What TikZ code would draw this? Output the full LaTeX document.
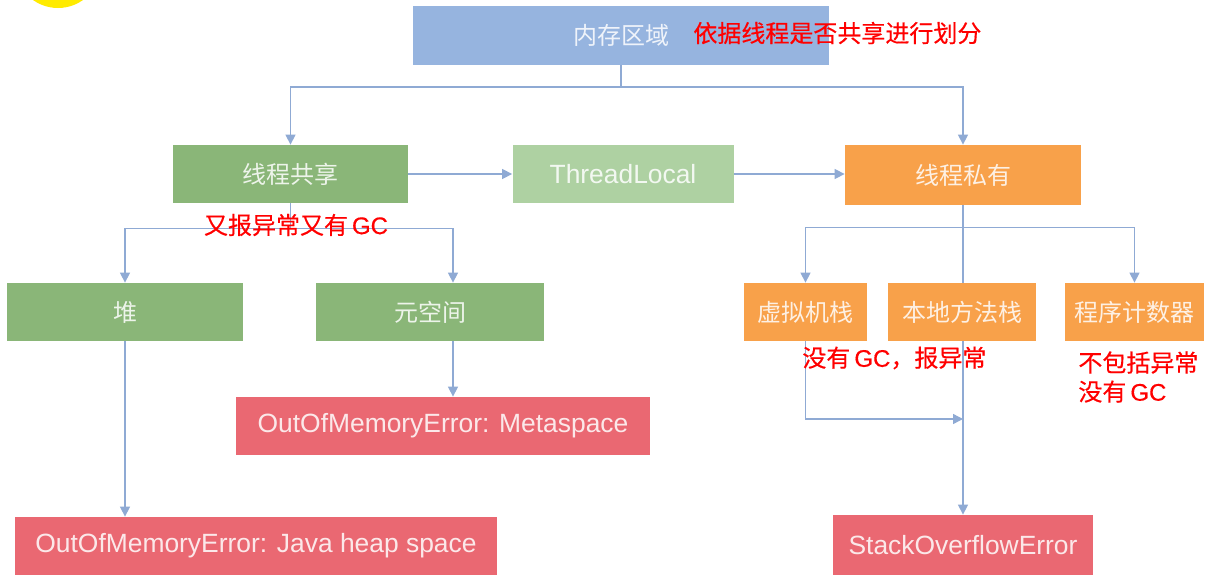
\documentclass[tikz,border=0pt]{standalone}
\usepackage{fontspec}
\setmainfont{Liberation Sans}
\newfontfamily\cjk{Noto Sans CJK SC}
\newfontfamily\cjknote[FakeBold=0.4]{Noto Sans CJK SC}
\newfontfamily\latnote[FakeBold=0.4]{Liberation Sans}
\usetikzlibrary{arrows.meta, positioning, calc, backgrounds}
\definecolor{RegionBlue}{HTML}{96B4DF}
\definecolor{SharedGreen}{HTML}{8AB678}
\definecolor{LocalGreen}{HTML}{AED1A2}
\definecolor{PrivOrange}{HTML}{F8A14A}
\definecolor{ErrRed}{HTML}{EA6872}
\definecolor{LinkBlue}{HTML}{8FAAD4}
\definecolor{NoteRed}{HTML}{FF0000}
\definecolor{Sun}{HTML}{FFEB00}
\newcommand{\gcmark}{{\latnote GC}}
\begin{document}
\begin{tikzpicture}[x=0.5pt, y=-0.5pt,
    box/.style={rectangle, inner sep=0pt, minimum height=29pt,
                text=white, text opacity=0.85, font=\fontsize{13.2}{15}\selectfont},
    cbox/.style={box, font=\cjk\fontsize{12}{14}\selectfont},
    note/.style={text=NoteRed, inner sep=0pt, align=left,
                 font=\cjknote\fontsize{12}{14.5}\selectfont},
    arr/.style={-{Triangle[length=5pt, width=5pt]}, line width=0.7pt, color=LinkBlue}
  ]
  \useasboundingbox (0,0) rectangle (1222,584);
  \begin{scope}
    \clip (0,0) rectangle (1222,584);
    \fill[Sun] (58,-35) circle (21.5pt);
  \end{scope}

  \node[cbox, fill=RegionBlue, minimum width=208pt, minimum height=29.5pt] (mem) at (621,35) {内存区域};
  \node[note, anchor=west] (memNote) at (693,33) {依据线程是否共享进行划分};

  \node[cbox, fill=SharedGreen, minimum width=117.5pt] (share) at (290.5,174) {线程共享};
  \node[box, fill=LocalGreen, minimum width=110.5pt] (tl) at (623,174) {ThreadLocal};
  \node[cbox, fill=PrivOrange, minimum width=118pt, minimum height=30pt] (priv) at (963,175) {线程私有};
  \node[note] (shareNote) at (296,225) {又报异常又有\,\gcmark};

  \node[cbox, fill=SharedGreen, minimum width=118pt] (heap) at (125,312) {堆};
  \node[cbox, fill=SharedGreen, minimum width=114pt] (meta) at (430,312) {元空间};
  \node[box, fill=ErrRed, minimum width=207pt] (oomMeta) at (443,426) {OutOfMemoryError: Metaspace};
  \node[box, fill=ErrRed, minimum width=241pt] (oomHeap) at (256,546) {OutOfMemoryError: Java heap space};

  \node[cbox, fill=PrivOrange, minimum width=61.5pt] (vms) at (805.5,312) {虚拟机栈};
  \node[cbox, fill=PrivOrange, minimum width=74pt] (nms) at (962,312) {本地方法栈};
  \node[cbox, fill=PrivOrange, minimum width=69.5pt] (pc) at (1134.5,312) {程序计数器};
  \node[note, anchor=west] (vmsNote) at (802,358) {没有\,\gcmark，报异常};
  \node[note, anchor=west] (pcNote) at (1078,377) {不包括异常\\没有\,\gcmark};
  \node[box, fill=ErrRed, minimum width=130pt, minimum height=30pt] (soe) at (963,545) {StackOverflowError};

  \begin{scope}[on background layer]
    \fill[white] (0,0) rectangle (1222,584);
    \coordinate (metaIn) at (453,0);
    \coordinate (join) at (963,419);
    \draw[arr] (mem.south) -- ++(0,22) -| (share.north);
    \draw[arr] (mem.south) -- ++(0,22) -| (priv.north);
    \draw[arr] (share) -- (tl);
    \draw[arr] (tl.east) -- (tl.east -| priv.west);
    \draw[arr] (share.south) -- ++(0,25) -| (heap.north);
    \draw[arr] (share.south) -- ++(0,25) -| (metaIn |- meta.north);
    \draw[arr] (metaIn |- meta.south) -- (metaIn |- oomMeta.north);
    \draw[arr] (heap.south) -- (heap.south |- oomHeap.north);
    \draw[arr] (priv.south) -- ++(0,22) -| (vms.north);
    \draw[arr] (priv.south) -- ++(0,22) -| (pc.north);
    \draw[arr] (priv.south) -- (soe.north);
    \draw[arr] (vms.south) |- (join);
  \end{scope}
\end{tikzpicture}
\end{document}
